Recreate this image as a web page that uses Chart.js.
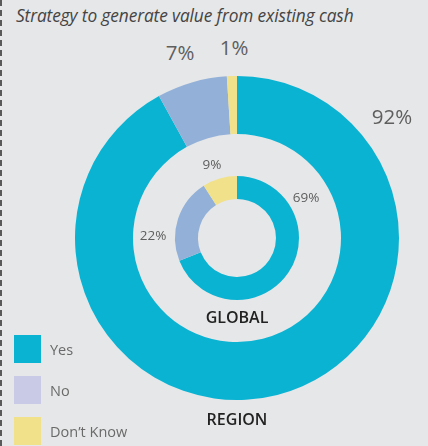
<!DOCTYPE html>
<html>

<head>
    <meta charset='utf-8'>
    <title>Strategy to generate value from existing cash</title>
    <script src="https://cdn.jsdelivr.net/npm/chart.js"></script>
    <style>
        body { margin: 0; background: #e6e7e8; font-family: 'Open Sans', sans-serif; }
        #wrap { position: relative; width: 428px; height: 446px; overflow: hidden; }
        #dash { position: absolute; left: 0; top: 0; height: 446px; border-left: 2px dashed #5a5a5a; }
        #title { position: absolute; left: 16px; top: 4px; font-size: 17.3px; font-style: italic; font-weight: 400; color: #444; letter-spacing: -0.1px; }
        #myChart { position: absolute; left: 75px; top: 76px; }
        .pct { position: absolute; color: #5e5e5e; font-weight: 400; transform: translate(-50%, -50%); white-space: nowrap; }
        .big { font-size: 20.5px; }
        .small { font-size: 13.5px; }
        .name { position: absolute; font-size: 16px; font-weight: 600; color: #222; transform: translate(-50%, -50%); }
        .leg { position: absolute; left: 14px; width: 27px; height: 28px; }
        .legtxt { position: absolute; left: 50px; font-size: 14.5px; font-weight: 400; color: #6a6a6a; }
    </style>
</head>

<body>
    <div id="wrap">
        <div id="dash"></div>
        <div id="title">Strategy to generate value from existing cash</div>
        <canvas id="myChart" width="324" height="324"></canvas>
        <div id="labels"></div>
    </div>
    <script>
        const categories = ['Yes', 'No', "Don\u2019t Know"];
        const regionValues = [92, 7, 1];   // outer ring
        const globalValues = [69, 22, 9];  // inner ring
        const sliceColors = ['#0bb3d3', '#93b1d8', '#f0e18a'];
        const legendColors = ['#0bb3d3', '#c9cae5', '#f0e18a'];

        // where the percentage labels sit (page pixels)
        const regionLabelPos = [[392, 116], [180, 52], [234, 47]];
        const globalLabelPos = [[306, 197], [153, 235], [212, 164]];

        const ctx = document.getElementById('myChart').getContext('2d');
        const myChart = new Chart(ctx, {
            type: 'doughnut',
            data: {
                labels: categories,
                datasets: [{
                    label: 'REGION',
                    data: regionValues,
                    backgroundColor: sliceColors,
                    borderWidth: 0,
                    weight: 58
                }, {
                    // empty band between the two rings
                    label: 'gap',
                    data: [1],
                    backgroundColor: 'rgba(0,0,0,0)',
                    borderWidth: 0,
                    weight: 42
                }, {
                    label: 'GLOBAL',
                    data: globalValues,
                    backgroundColor: sliceColors,
                    borderWidth: 0,
                    weight: 23
                }]
            },
            options: {
                responsive: false,
                animation: false,
                cutout: 39,
                layout: { padding: 0 },
                plugins: {
                    legend: { display: false },
                    tooltip: { enabled: false }
                }
            }
        });

        const labels = document.getElementById('labels');
        function addText(cls, txt, x, y) {
            const d = document.createElement('div');
            d.className = cls;
            d.textContent = txt;
            d.style.left = x + 'px';
            d.style.top = y + 'px';
            labels.appendChild(d);
        }
        regionValues.forEach((v, i) => addText('pct big', v + '%', regionLabelPos[i][0], regionLabelPos[i][1]));
        globalValues.forEach((v, i) => addText('pct small', v + '%', globalLabelPos[i][0], globalLabelPos[i][1]));
        addText('name', 'GLOBAL', 237, 317);
        addText('name', 'REGION', 237, 419);

        categories.forEach((c, i) => {
            const sq = document.createElement('div');
            sq.className = 'leg';
            sq.style.top = (335 + i * 41) + 'px';
            sq.style.background = legendColors[i];
            labels.appendChild(sq);
            const t = document.createElement('div');
            t.className = 'legtxt';
            t.textContent = c;
            t.style.top = (340 + i * 41) + 'px';
            labels.appendChild(t);
        });
    </script>
</body>

</html>
